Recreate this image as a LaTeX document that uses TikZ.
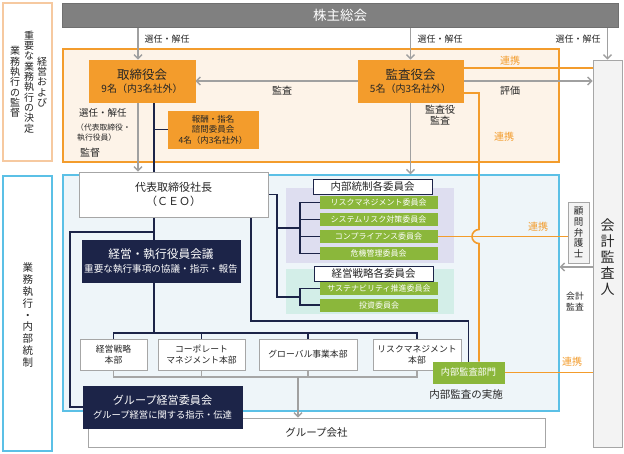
\documentclass[tikz,border=0pt]{standalone}
\usepackage{fontspec}
\setmainfont{Noto Sans CJK JP}
\usetikzlibrary{arrows.meta,calc}
\pgfdeclarelayer{bg}
\pgfdeclarelayer{lines}
\pgfsetlayers{bg,lines,main}
\newcommand{\myfs}[2]{\fontsize{#1}{#2}\selectfont}
\definecolor{org}{HTML}{F39C2C}
\definecolor{orgf}{HTML}{FDF3E8}
\definecolor{peach}{HTML}{F6C9A0}
\definecolor{blueb}{HTML}{5BC0E6}
\definecolor{bluef}{HTML}{EEF5F9}
\definecolor{navy}{HTML}{1C2448}
\definecolor{grn}{HTML}{8BB73B}
\definecolor{lav}{HTML}{DEDEF0}
\definecolor{teal}{HTML}{D3EEE8}
\definecolor{shf}{HTML}{808080}
\definecolor{shb}{HTML}{707070}
\definecolor{garr}{HTML}{A0A0A0}
\definecolor{gbox}{HTML}{A6A6A6}
\definecolor{caf}{HTML}{F3F3F3}
\definecolor{txt}{HTML}{262626}
\begin{document}
\begin{tikzpicture}[x=1pt,y=-1pt,
  box/.style={draw, inner sep=0pt, align=center, line width=0.8pt, text=txt},
  region/.style={draw, inner sep=0pt, line width=1.1pt},
  obox/.style={box, draw=org, fill=org, text=txt},
  nbox/.style={box, draw=navy, fill=navy, text=white},
  wbox/.style={box, draw=gbox, fill=white},
  hbox/.style={box, draw=navy, fill=white, minimum width=119pt, minimum height=15pt, font=\myfs{10.5}{12}},
  gbx/.style={box, draw=grn, fill=grn, text=white, minimum width=117pt, minimum height=12pt, font=\myfs{8}{10}},
  lab/.style={inner sep=0pt, text=txt, align=center},
  olab/.style={inner sep=0pt, text=org, font=\myfs{10}{12}},
  garrow/.style={draw=garr, line width=1.4pt, -{Straight Barb[length=4pt,width=8pt]}},
  gline/.style={draw=gbox, line width=1.2pt},
  nline/.style={draw=navy, line width=1.3pt},
  oline/.style={draw=org, line width=1.6pt}]
\useasboundingbox (0,0) rectangle (624,454);
\begin{pgfonlayer}{bg}
\fill[white] (0,0) rectangle (624,454);
\node[region, draw=org, fill=orgf, minimum width=496pt, minimum height=113pt] (oreg) at (311,105.5) {};
\node[region, draw=blueb, fill=bluef, minimum width=496pt, minimum height=236pt] (breg) at (311,293) {};
\node[inner sep=0pt, fill=lav, minimum width=168pt, minimum height=75pt] (icbg) at (370,225.5) {};
\node[inner sep=0pt, fill=teal, minimum width=168pt, minimum height=45pt] (msbg) at (370,291.5) {};
\end{pgfonlayer}

% left side boxes
\node[region, draw=peach, fill=white, minimum width=49pt, minimum height=158pt] (lb1) at (27.5,82) {};
\node[lab, font=\myfs{10}{10.3}] (lt1) at (42,82) {経\\営\\お\\よ\\び};
\node[lab, font=\myfs{10}{10.3}] (lt2) at (29,82) {重\\要\\な\\業\\務\\執\\行\\の\\決\\定};
\node[lab, font=\myfs{10}{10.3}] (lt3) at (15,82) {業\\務\\執\\行\\の\\監\\督};
\node[region, draw=blueb, fill=white, minimum width=49pt, minimum height=275pt] (lb2) at (27.5,313.5) {};
\node[lab, font=\myfs{10.5}{11.8}] (lt4) at (28,315) {業\\務\\執\\行\\・\\内\\部\\統\\制};

% top bar and auditor
\node[box, draw=shb, fill=shf, text=white, minimum width=556pt, minimum height=24pt, font=\myfs{13.5}{16}] (sh) at (340,15) {株主総会};
\node[box, draw=gbox, fill=caf, minimum width=29pt, minimum height=387pt] (ca) at (607.5,253.5) {};
\node[lab, font=\myfs{14}{16}] (cat) at (607.5,257) {会\\計\\監\\査\\人};

% board level
\node[obox, minimum width=106pt, minimum height=42pt, font=\myfs{12.5}{14}] (bod) at (142,81) {取締役会\\[-0.5pt]{\myfs{10}{12}9名（内3名社外）}};
\node[obox, minimum width=105pt, minimum height=42pt, font=\myfs{12.5}{14}] (acb) at (410.5,81) {監査役会\\[-0.5pt]{\myfs{10}{12}5名（内3名社外）}};
\node[obox, minimum width=90pt, minimum height=37pt, font=\myfs{8.5}{10.5}] (nom) at (213,129.5) {報酬・指名\\諮問委員会\\4名（内3名社外）};

% execution level
\node[wbox, minimum width=189pt, minimum height=45pt, font=\myfs{11}{14}] (ceo) at (173.5,194.5) {代表取締役社長\\（ＣＥＯ）};
\node[nbox, minimum width=158pt, minimum height=42pt, font=\myfs{11.7}{14}] (emc) at (161,261) {経営・執行役員会議\\{\myfs{9.6}{12}重要な執行事項の協議・指示・報告}};

\node[hbox] (ich) at (372.5,186.5) {内部統制各委員会};
\node[gbx] (ic1) at (378.5,202.5) {リスクマネジメント委員会};
\node[gbx] (ic2) at (378.5,219.5) {システムリスク対策委員会};
\node[gbx] (ic3) at (378.5,236.5) {コンプライアンス委員会};
\node[gbx] (ic4) at (378.5,253.5) {危機管理委員会};
\node[hbox] (msh) at (373.5,273.5) {経営戦略各委員会};
\node[gbx] (ms1) at (379,288.5) {サステナビリティ推進委員会};
\node[gbx] (ms2) at (379,305) {投資委員会};

\node[wbox, minimum width=67pt, minimum height=31pt, font=\myfs{8.8}{11}] (d1) at (113.5,354.5) {経営戦略\\本部};
\node[wbox, minimum width=87pt, minimum height=31pt, font=\myfs{8.8}{11}] (d2) at (201.5,354.5) {コーポレート\\マネジメント本部};
\node[wbox, minimum width=98pt, minimum height=31pt, font=\myfs{8.8}{11}] (d3) at (308,354.5) {グローバル事業本部};
\node[wbox, minimum width=88pt, minimum height=31pt, font=\myfs{8.8}{11}] (d4) at (417,354.5) {リスクマネジメント\\本部};

\node[box, draw=grn, fill=grn, text=white, minimum width=71pt, minimum height=21pt, font=\myfs{9.2}{11}] (iad) at (468.5,372.5) {内部監査部門};
\node[lab, font=\myfs{10.5}{12}] (iadt) at (466,395) {内部監査の実施};

\node[wbox, minimum width=457pt, minimum height=29pt, font=\myfs{10.5}{12}] (gc) at (316.5,432.5) {グループ会社};
\node[nbox, minimum width=159pt, minimum height=42pt, font=\myfs{11.1}{14}] (gmc) at (162.5,407) {グループ経営委員会\\{\myfs{9.3}{12}グループ経営に関する指示・伝達}};

\node[box, draw=gbox, fill=caf, minimum width=21pt, minimum height=61pt, font=\myfs{9.5}{10.6}] (law) at (578.5,232.5) {顧\\問\\弁\\護\\士};

% labels
\node[lab, font=\myfs{9}{11}] (l1) at (167,39) {選任・解任};
\node[lab, font=\myfs{9}{11}] (l2) at (440,39) {選任・解任};
\node[lab, font=\myfs{9}{11}] (l3) at (578,39) {選任・解任};
\node[lab, font=\myfs{10}{12}] (l4) at (282,91) {監査};
\node[lab, font=\myfs{10}{12}] (l5) at (510,91) {評価};
\node[olab] (l6) at (510,61) {連携};
\node[lab, font=\myfs{10}{11.5}] (l7) at (440,115) {監査役\\監査};
\node[olab] (l8) at (504,137) {連携};
\node[lab, font=\myfs{9.5}{11}, anchor=west] (l9) at (79,113) {選任・解任};
\node[lab, font=\myfs{7.8}{10}, anchor=west] (l10) at (76,128) {（代表取締役・};
\node[lab, font=\myfs{7.8}{10}, anchor=west] (l11) at (77,138) {執行役員）};
\node[lab, font=\myfs{10}{12}, anchor=west] (l12) at (80,153) {監督};
\node[olab] (l13) at (538,227) {連携};
\node[lab, font=\myfs{8.8}{11}] (l14) at (575,302) {会計\\監査};
\node[olab] (l15) at (572,362) {連携};

% coordinates
\coordinate (xa) at (138,0);
\coordinate (xb) at (154,0);
\coordinate (xl) at (70,232);
\coordinate (bus) at (0,333);
\coordinate (gbus) at (0,377);
\coordinate (xg) at (298,377);
\coordinate (xc) at (251,321);
\coordinate (xd) at (277,0);
\coordinate (xe) at (300,0);
\coordinate (m1) at (0,228);
\coordinate (m2) at (0,297);
\coordinate (yo1) at (0,68);
\coordinate (xo) at (479,93);
\coordinate (ya) at (0,267);

\begin{pgfonlayer}{lines}
% shareholders
\draw[garrow] (sh.south -| xa) -- (bod.north -| xa);
\draw[garrow] (sh.south -| acb.north) -- (acb.north);
\draw[garrow] (sh.south -| ca.north) -- (ca.north);
% board
\draw[garrow] (bod.south -| xa) -- (ceo.north -| xa);
\draw[nline] (bod.south -| xb) -- (ceo.north -| xb);
\draw[nline] (nom.west -| xb) -- (nom.west);
\draw[garrow] (acb.west) -- (bod.east);
\draw[garrow] (acb.east) -- (acb.east -| ca.west);
\draw[oline] (acb.east |- yo1) -- (ca.west |- yo1);
\draw[garrow] (acb.south) -- (acb.south |- breg.north);
% orange vertical with hop
\draw[oline] (acb.east |- xo) -- (xo) -- (479,229.5) arc[start angle=90,end angle=270,radius=7pt] -- (iad.north -| xo);
\draw[oline] (ic3.east) -- (law.west |- ic3.east);
\draw[oline] (iad.east) -- (iad.east -| ca.west);
\draw[garrow] (ca.west |- ya) -- (breg.east |- ya);
% CEO down
\draw[nline] (ceo.south -| xb) -- (emc.north -| xb);
\draw[nline] (xb |- xl) -- (xl) |- (gmc.west);
\draw[nline] (emc.south -| xb) -- (xb |- bus);
\draw[nline] (d1.north) -- (d1.north |- bus) -- (d4.north |- bus) -- (d4.north);
\draw[nline] (d2.north) -- (d2.north |- bus);
\draw[nline] (d3.north) -- (d3.north |- bus);
\draw[nline] (ceo.south -| xc) -- (xc) -| (iad.north);
% CEO right to committees
\draw[nline] (ceo.east) -- (xd |- ceo.east) -- (xd |- m2) -- (xe |- m2);
\draw[nline] (xd |- m1) -- (xe |- m1);
\draw[nline] (ic1.west) -- (xe |- ic1.west) -- (xe |- ic4.west) -- (ic4.west);
\draw[nline] (ic2.west) -- (xe |- ic2.west);
\draw[nline] (ic3.west) -- (xe |- ic3.west);
\draw[nline] (ms1.west) -- (xe |- ms1.west) -- (xe |- ms2.west) -- (ms2.west);
% departments to group companies
\draw[gline] (d1.south) -- (d1.south |- gbus) -- (d4.south |- gbus) -- (d4.south);
\draw[gline] (d2.south) -- (d2.south |- gbus);
\draw[gline] (d3.south) -- (d3.south |- gbus);
\draw[garrow] (xg) -- (gc.north -| xg);
\end{pgfonlayer}
\end{tikzpicture}
\end{document}
